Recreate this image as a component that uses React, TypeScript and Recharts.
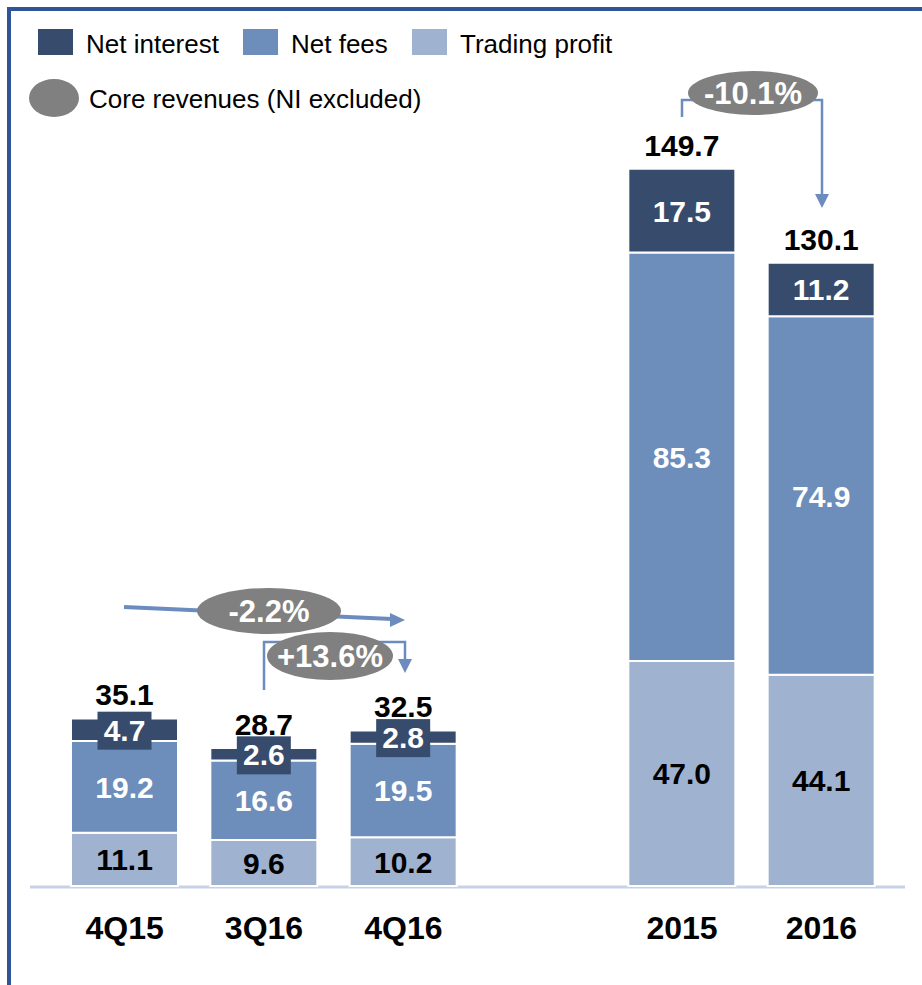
import { BarChart, Bar, XAxis, YAxis, LabelList, Customized } from "recharts";

const categories = ["4Q15", "3Q16", "4Q16", "", "2015", "2016"];
const tradingProfit = [11.1, 9.6, 10.2, null, 47.0, 44.1];
const netFees = [19.2, 16.6, 19.5, null, 85.3, 74.9];
const netInterest = [4.7, 2.6, 2.8, null, 17.5, 11.2];
const totals = [35.1, 28.7, 32.5, null, 149.7, 130.1];

const NI_COLOR = "#374C6D";
const FEES_COLOR = "#6D8DBA";
const TRADING_COLOR = "#9FB2D0";
const BUBBLE = "#808080";
const ARROW = "#6C8CC0";
const FONT = "'Liberation Sans', Arial, sans-serif";

const series = [
  { key: "netInterest", name: "Net interest", color: NI_COLOR },
  { key: "netFees", name: "Net fees", color: FEES_COLOR },
  { key: "tradingProfit", name: "Trading profit", color: TRADING_COLOR },
];

const data = categories.map((c, i) => ({
  category: c,
  tradingProfit: tradingProfit[i],
  netFees: netFees[i],
  netInterest: netInterest[i],
  total: totals[i],
}));

function box(props: any) {
  const vb = props.viewBox ?? props;
  const x = vb.x;
  const width = vb.width;
  const y = Math.min(vb.y, vb.y + vb.height);
  const height = Math.abs(vb.height);
  return { x, y, width, height };
}

const makeInside = (fill: string) => (props: any) => {
  const { value } = props;
  if (value == null) return null;
  const { x, y, width, height } = box(props);
  return (
    <text x={x + width / 2} y={y + height / 2} dy={11} textAnchor="middle" fill={fill}
      fontFamily={FONT} fontWeight="bold" fontSize={30}>
      {Number(value).toFixed(1)}
    </text>
  );
};

const NiLabel = (props: any) => {
  const { value } = props;
  if (value == null) return null;
  const { x, y, width, height } = box(props);
  const cx = x + width / 2;
  const cy = y + height / 2;
  return (
    <g>
      {height < 30 && <rect x={cx - 27} y={cy - 18} width={54} height={38} fill={NI_COLOR} />}
      <text x={cx} y={cy} dy={11} textAnchor="middle" fill="#fff"
        fontFamily={FONT} fontWeight="bold" fontSize={30}>
        {Number(value).toFixed(1)}
      </text>
    </g>
  );
};

const TotalLabel = (props: any) => {
  const { value } = props;
  if (value == null) return null;
  const { x, y, width } = box(props);
  return (
    <text x={x + width / 2} y={y - 13} textAnchor="middle" fill="#000"
      fontFamily={FONT} fontWeight="bold" fontSize={30}>
      {Number(value).toFixed(1)}
    </text>
  );
};

const Tick = ({ x, y, payload }: any) => (
  <text x={x} y={y + 45} textAnchor="middle" fill="#000" fontFamily={FONT}
    fontWeight="bold" fontSize={32}>
    {payload.value}
  </text>
);

function Arrowhead({ x, y, dir }: { x: number; y: number; dir: "down" | "right" }) {
  const pts = dir === "down"
    ? `${x - 7},${y - 14} ${x + 7},${y - 14} ${x},${y}`
    : `${x - 15},${y - 7} ${x - 15},${y + 7} ${x},${y}`;
  return <polygon points={pts} fill={ARROW} />;
}

function Bubble({ cx, cy, rx, ry, text }: any) {
  return (
    <g>
      <ellipse cx={cx} cy={cy} rx={rx} ry={ry} fill={BUBBLE} />
      <text x={cx} y={cy} dy={11} textAnchor="middle" fill="#fff" fontFamily={FONT}
        fontWeight="bold" fontSize={31}>{text}</text>
    </g>
  );
}

function Overlay() {
  const legendX = [38, 243, 412];
  return (
    <g>
      <line x1={30} x2={905} y1={887} y2={887} stroke="#C8D2E6" strokeWidth={3} />
      {series.map((s, i) => (
        <g key={s.key}>
          <rect x={legendX[i]} y={29} width={35} height={26} fill={s.color} />
          <text x={legendX[i] + 48} y={53} fontFamily={FONT} fontSize={26} fill="#000">{s.name}</text>
        </g>
      ))}
      <ellipse cx={54} cy={98} rx={25} ry={19} fill={BUBBLE} />
      <text x={89} y={108} fontFamily={FONT} fontSize={26} fill="#000">Core revenues (NI excluded)</text>

      {/* 4Q15 -> 4Q16 */}
      <line x1={124} y1={607} x2={392} y2={619} stroke={ARROW} strokeWidth={4} />
      <Arrowhead x={405} y={620} dir="right" />
      <Bubble cx={269} cy={611} rx={72} ry={23} text="-2.2%" />

      {/* 3Q16 -> 4Q16 */}
      <polyline points="264,690 264,642 405,642 405,662" fill="none" stroke={ARROW} strokeWidth={2.5} />
      <Arrowhead x={405} y={673} dir="down" />
      <Bubble cx={330} cy={656} rx={63} ry={24} text="+13.6%" />

      {/* 2015 -> 2016 */}
      <polyline points="682,117 682,100 720,100" fill="none" stroke={ARROW} strokeWidth={2.5} />
      <polyline points="790,100 822,100 822,196" fill="none" stroke={ARROW} strokeWidth={2.5} />
      <Arrowhead x={822} y={208} dir="down" />
      <Bubble cx={753} cy={93} rx={65} ry={22} text="-10.1%" />
    </g>
  );
}

export default function App() {
  return (
    <div style={{ position: "absolute", left: 0, top: 0, width: 922, height: 985, background: "#fff" }}>
      <div style={{
        position: "absolute", left: 7, top: 7, right: 0, bottom: 0,
        borderTop: "4px solid #2F5597", borderLeft: "4px solid #2F5597",
      }} />
      <div style={{ position: "absolute", left: 0, top: 0 }}>
        <BarChart width={922} height={985} data={data}
          margin={{ top: 120, right: 31, left: 55, bottom: 0 }}>
          <XAxis dataKey="category" axisLine={false} tickLine={false} height={99}
            tick={<Tick />} interval={0} />
          <YAxis hide domain={[0, 160]} />
          <Bar dataKey="tradingProfit" stackId="a" fill={TRADING_COLOR} barSize={107}
            stroke="#fff" strokeWidth={2} isAnimationActive={false}>
            <LabelList dataKey="tradingProfit" content={makeInside("#000")} />
          </Bar>
          <Bar dataKey="netFees" stackId="a" fill={FEES_COLOR} barSize={107}
            stroke="#fff" strokeWidth={2} isAnimationActive={false}>
            <LabelList dataKey="netFees" content={makeInside("#fff")} />
          </Bar>
          <Bar dataKey="netInterest" stackId="a" fill={NI_COLOR} barSize={107}
            stroke="#fff" strokeWidth={2} isAnimationActive={false}>
            <LabelList dataKey="netInterest" content={NiLabel} />
            <LabelList dataKey="total" content={TotalLabel} />
          </Bar>
          <Customized component={Overlay} />
        </BarChart>
      </div>
    </div>
  );
}
